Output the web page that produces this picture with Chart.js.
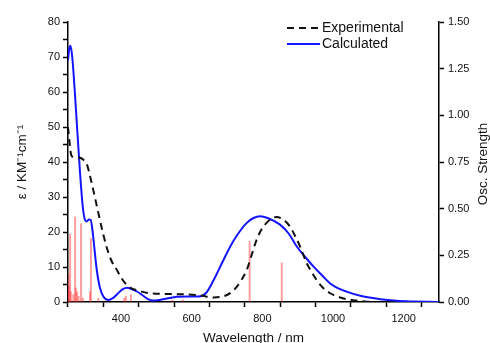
<!DOCTYPE html>
<html>
<head>
<meta charset="utf-8">
<script src="https://cdn.jsdelivr.net/npm/chart.js@4.4.1/dist/chart.umd.min.js"></script>
<style>
  html, body { margin: 0; padding: 0; background: #fff; }
  #wrap { width: 490px; height: 343px; position: relative; }
</style>
</head>
<body>
<div id="wrap"><canvas id="spectrum"></canvas></div>
<script>
// wavelength (nm) / epsilon pairs
var calcWavelength = [250, 253, 257, 262, 268, 275, 284, 292, 298, 303, 309, 314, 318, 322, 331, 340, 350, 364, 378, 390, 405, 418, 430, 445, 460, 475, 492, 510, 530, 558, 590, 620, 640, 662, 690, 710, 728, 756, 775, 794, 815, 850, 875, 898, 920, 945, 970, 992, 1015, 1040, 1080, 1134, 1180, 1228, 1270, 1300];
var calcEpsilon = [69, 72, 73.2, 70, 62, 51, 37, 27, 23.5, 23, 23.6, 23.5, 21.5, 18, 9.5, 4.2, 1.6, 0.6, 1.2, 2.3, 3.7, 4.1, 3.7, 3, 2, 0.9, 0.4, 0.6, 1, 1.5, 1.6, 1.6, 2.5, 6.2, 12, 16, 19, 22.6, 24, 24.5, 24, 22.1, 19.5, 15.8, 13, 10.1, 7.5, 5.3, 3.9, 2.9, 1.7, 0.8, 0.35, 0.15, 0.05, 0];

var expWavelength = [250, 254, 258, 262, 270, 284, 295, 303, 310, 317, 326, 336, 347, 359, 372, 388, 400, 416, 430, 444, 462, 482, 520, 577, 614, 640, 662, 685, 700, 715, 728, 742, 756, 770, 784, 798, 812, 826, 840, 855, 866, 878, 893, 907, 926, 940, 954, 970, 992, 1020, 1058, 1090, 1110];
var expEpsilon = [50, 46, 42.5, 41.5, 41.3, 41.2, 40.5, 39.5, 37, 34, 30, 25.4, 20.5, 15.8, 12, 9.2, 7, 4.9, 3.9, 3.4, 2.9, 2.5, 2.3, 2.2, 2.0, 1.6, 1.3, 1.5, 2, 3, 4.4, 6.5, 9.2, 13.5, 17.8, 20.8, 22.6, 23.8, 24.3, 23.8, 23, 21.6, 18.8, 15.8, 11, 8.5, 6.2, 4.2, 2.5, 1.3, 0.5, 0.15, 0];

// calculated transitions (stick spectrum)
var stickWavelength = [251, 253, 256, 258, 265, 270, 272, 276, 280, 287, 292, 312, 315, 336, 409, 414, 428, 545, 575, 764, 855];
var stickStrength = [0.15, 0.085, 0.365, 0.055, 0.04, 0.455, 0.075, 0.055, 0.03, 0.42, 0.02, 0.055, 0.34, 0.02, 0.02, 0.03, 0.04, 0.01, 0.012, 0.325, 0.21];

var xTickValues = [300, 400, 500, 600, 700, 800, 900, 1000, 1100, 1200];
var xLabelValues = [400, 600, 800, 1000, 1200];

var seriesNames = ['Experimental', 'Calculated'];

function pairs(xs, ys) {
    var out = [];
    for (var i = 0; i < xs.length; i++) {
        out.push({x: xs[i], y: ys[i]});
    }
    return out;
}

var fontFamily = "'Liberation Sans', Arial, sans-serif";

// legend and right hand title, drawn by hand so they sit like the original
var extrasPlugin = {
    id: 'extras',
    afterDraw: function(chart) {
        var ctx = chart.ctx;
        ctx.save();
        ctx.font = "14px " + fontFamily;
        ctx.fillStyle = '#111';
        ctx.textBaseline = 'middle';
        ctx.textAlign = 'left';
        var rows = [28, 44];
        for (var i = 0; i < 2; i++) {
            var ds = chart.data.datasets[i];
            ctx.beginPath();
            ctx.setLineDash(ds.borderDash || []);
            ctx.lineWidth = ds.borderWidth;
            ctx.strokeStyle = ds.borderColor;
            ctx.moveTo(287, rows[i]);
            ctx.lineTo(320, rows[i]);
            ctx.stroke();
            ctx.setLineDash([]);
            ctx.fillText(seriesNames[i], 322, rows[i]);
        }
        ctx.font = "13.5px " + fontFamily;
        ctx.translate(487, 164);
        ctx.rotate(-Math.PI / 2);
        ctx.textAlign = 'center';
        ctx.textBaseline = 'alphabetic';
        ctx.fillText('Osc. Strength', 0, 0);
        ctx.restore();
    }
};

var ctx = document.getElementById('spectrum').getContext('2d');
var chart = new Chart(ctx, {
    type: 'line',
    data: {
        datasets: [{
            label: 'Experimental',
            data: pairs(expWavelength, expEpsilon),
            borderColor: '#111',
            borderWidth: 2,
            borderDash: [7, 5],
            pointRadius: 0,
            cubicInterpolationMode: 'monotone',
            yAxisID: 'y',
            order: 1
        }, {
            label: 'Calculated',
            data: pairs(calcWavelength, calcEpsilon),
            borderColor: '#1414ff',
            borderWidth: 2,
            pointRadius: 0,
            cubicInterpolationMode: 'monotone',
            yAxisID: 'y',
            order: 2
        }, {
            type: 'bar',
            label: 'Osc',
            data: pairs(stickWavelength, stickStrength),
            backgroundColor: 'rgba(255, 40, 40, 0.45)',
            barThickness: 1.3,
            yAxisID: 'y2',
            order: 3
        }]
    },
    options: {
        responsive: true,
        maintainAspectRatio: false,
        animation: false,
        layout: {
            padding: { top: 22, left: 0, right: 0, bottom: 0 }
        },
        plugins: {
            legend: { display: false },
            tooltip: { enabled: false }
        },
        scales: {
            x: {
                type: 'linear',
                min: 250,
                max: 1300,
                offset: false,
                afterBuildTicks: function(axis) {
                    axis.ticks = xTickValues.map(function(v) { return {value: v}; });
                },
                afterFit: function(scale) { scale.height = 41; },
                ticks: {
                    autoSkip: false,
                    maxRotation: 0,
                    padding: 5,
                    color: '#111',
                    font: { size: 11, family: fontFamily },
                    callback: function(value) {
                        return xLabelValues.indexOf(value) >= 0 ? value : '';
                    }
                },
                grid: {
                    drawOnChartArea: false,
                    tickLength: 5,
                    tickColor: '#000',
                    tickWidth: 1.5
                },
                border: { color: '#000', width: 1.5 },
                title: {
                    display: true,
                    text: 'Wavelength / nm',
                    color: '#111',
                    font: { size: 13.5, family: fontFamily },
                    padding: { top: 0, bottom: -3 }
                }
            },
            y: {
                position: 'left',
                min: 0,
                max: 80,
                afterFit: function(scale) { scale.width = 68; },
                ticks: {
                    stepSize: 5,
                    autoSkip: false,
                    padding: 3,
                    color: '#111',
                    font: { size: 11, family: fontFamily },
                    callback: function(value) {
                        return value % 10 === 0 ? value : '';
                    }
                },
                grid: {
                    drawOnChartArea: false,
                    tickLength: 5,
                    tickColor: '#000',
                    tickWidth: 1.5
                },
                border: { color: '#000', width: 1.5 },
                title: {
                    display: true,
                    text: 'ε / KM⁻¹cm⁻¹',
                    color: '#111',
                    font: { size: 13.5, family: fontFamily },
                    padding: { top: 14, bottom: 0 }
                }
            },
            y2: {
                position: 'right',
                min: 0,
                max: 1.5,
                afterFit: function(scale) { scale.width = 51; },
                ticks: {
                    stepSize: 0.25,
                    autoSkip: false,
                    padding: 4,
                    color: '#111',
                    font: { size: 11, family: fontFamily },
                    callback: function(value) { return value.toFixed(2); }
                },
                grid: {
                    drawOnChartArea: false,
                    tickLength: 5,
                    tickColor: '#000',
                    tickWidth: 1.5
                },
                border: { color: '#000', width: 1.5 }
            }
        }
    },
    plugins: [extrasPlugin]
});
</script>
</body>
</html>
